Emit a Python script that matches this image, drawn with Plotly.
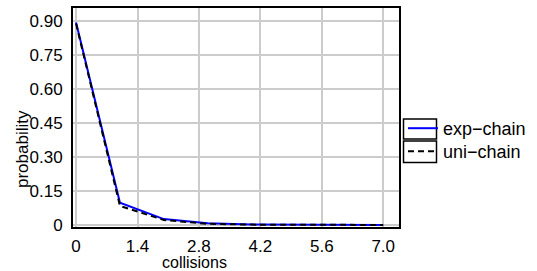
import plotly.graph_objects as go

collisions = [0, 1, 2, 3, 4, 5, 6, 7]
exp_chain = [0.893, 0.098, 0.026, 0.007, 0.002, 0.0005, 0.0002, 0.0001]
uni_chain = [0.888, 0.084, 0.022, 0.005, 0.0015, 0.0004, 0.0001, 0.0]
x_ticks = [0, 1.4, 2.8, 4.2, 5.6, 7.0]
x_labels = ["0", "1.4", "2.8", "4.2", "5.6", "7.0"]
y_ticks = [0, 0.15, 0.30, 0.45, 0.60, 0.75, 0.90]
y_labels = ["0", "0.15", "0.30", "0.45", "0.60", "0.75", "0.90"]

FONT = "Liberation Sans, Arial, sans-serif"

fig = go.Figure()
fig.add_trace(go.Scatter(x=collisions, y=exp_chain, mode="lines", name="exp\u2212chain",
                         line=dict(color="#0000ff", width=2), legend="legend"))
fig.add_trace(go.Scatter(x=collisions, y=uni_chain, mode="lines", name="uni\u2212chain",
                         line=dict(color="black", width=2, dash="6px,4px"), legend="legend2"))

L, R, T, B = 73, 399, 8, 227
W, H = 537, 271

def px_x(x):
    return (x - L) / (R - L)

def px_y(y):
    return (B - y) / (B - T)

leg_common = dict(xanchor="left", yanchor="middle", font=dict(size=18),
                  bgcolor="rgba(0,0,0,0)", itemwidth=30, borderwidth=0)

fig.update_layout(
    width=W, height=H,
    margin=dict(l=L, r=W - R, t=T, b=H - B, autoexpand=False),
    paper_bgcolor="white", plot_bgcolor="white",
    font=dict(family=FONT, size=17, color="black"),
    showlegend=True,
    legend=dict(x=px_x(403), y=px_y(128.5), **leg_common),
    legend2=dict(x=px_x(403), y=px_y(151.5), **leg_common),
    xaxis=dict(range=[-0.07, 7.36], tickvals=x_ticks, ticktext=x_labels,
               showgrid=True, gridcolor="#cccccc", gridwidth=1.5,
               showline=True, linecolor="black", linewidth=2, mirror=True,
               ticks="outside", ticklen=3, tickcolor="rgba(0,0,0,0)",
               zeroline=False, tickfont=dict(size=17), automargin=False),
    yaxis=dict(range=[-0.009, 0.957], tickvals=y_ticks, ticktext=y_labels,
               showgrid=True, gridcolor="#cccccc", gridwidth=1.5,
               showline=True, linecolor="black", linewidth=2, mirror=True,
               ticks="outside", ticklen=5, tickcolor="rgba(0,0,0,0)",
               zeroline=False, tickfont=dict(size=17), automargin=False),
)

fig.add_annotation(text="collisions", xref="paper", yref="paper",
                   x=px_x(194), y=px_y(262), borderpad=0,
                   showarrow=False, font=dict(size=16), xanchor="center", yanchor="middle")
fig.add_annotation(text="probability", xref="paper", yref="paper",
                   x=px_x(22), y=px_y(149), textangle=-90,
                   showarrow=False, font=dict(size=17), xanchor="center", yanchor="middle")

# boxes around legend symbols
for top, bot in ((119, 139), (141, 162.5)):
    fig.add_shape(type="rect", xref="paper", yref="paper",
                  x0=px_x(403.5), x1=px_x(436.5),
                  y0=px_y(top), y1=px_y(bot),
                  line=dict(color="black", width=1.5))

fig.write_html("out.html", config={"displayModeBar": False},
               post_script="document.body.style.margin='0px';")
